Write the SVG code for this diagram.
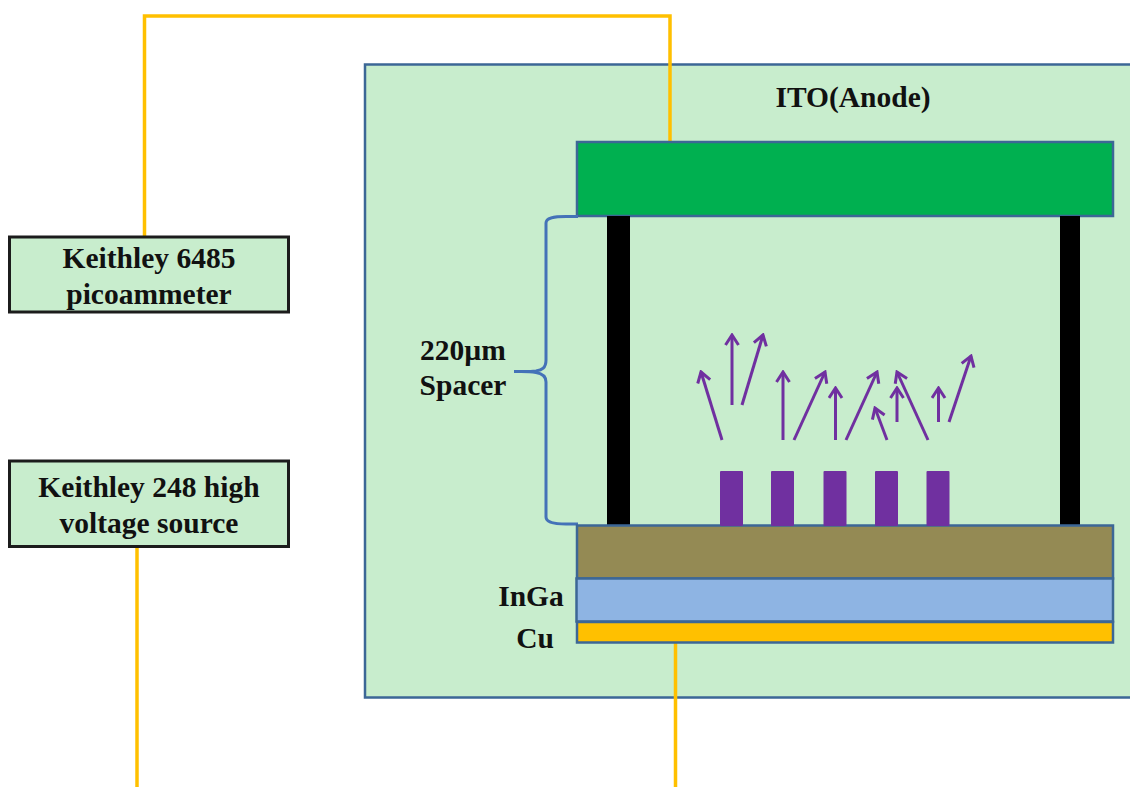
<svg xmlns="http://www.w3.org/2000/svg" width="1130" height="787" viewBox="0 0 1130 787">
<defs>
<marker id="arr" viewBox="0 0 16 16" refX="14" refY="8" markerWidth="16" markerHeight="16" markerUnits="userSpaceOnUse" orient="auto"><path d="M4 1.500 L14 8 L4 14.500" fill="none" stroke="#7030a0" stroke-width="3"/></marker>
</defs>
<style>
text{font-family:"Liberation Serif","Times New Roman",serif;font-weight:bold;font-size:29.500px;fill:#111;text-anchor:middle}
.l{stroke:#3c6796;stroke-width:2.500}
.box{fill:#c8edcd;stroke:#1c1c1c;stroke-width:3}
.w{fill:none;stroke:#ffc000;stroke-width:3.500}
.a{fill:none;stroke:#7030a0;stroke-width:3;marker-end:url(#arr)}
.p{fill:#7030a0}
.s{fill:#000}
</style>
<rect width="1130" height="787" fill="#fff"/>
<g id="ito"><path d="M1131 64.500H365V697.500H1131" fill="#c8edcd" stroke="#3c6796" stroke-width="2.500"/><text x="853" y="107">ITO(Anode)</text></g>
<g id="connectors">
<path class="w" d="M144.500 237V16H670V143"/>
<path class="w" d="M137 547V787"/>
<path class="w" d="M675.500 643V787"/>
</g>
<g id="anode"><rect class="l" x="577" y="142" width="536" height="74" fill="#00b050"/></g>
<g id="spacers"><rect class="s" x="607" y="216" width="23" height="311"/><rect class="s" x="1060" y="216" width="20" height="311"/></g>
<g id="brace"><path d="M578 216.500H566C553 216.500 546 218 546 223V360C546 368 542 370 536 371C528 372 522 371.500 514 371.500C522 371.500 528 371 536 372.500C542 373.500 546 376 546 382V517C546 522 553 524 566 524H578" fill="none" stroke="#4472b8" stroke-width="3"/><text x="463" y="360">220µm</text><text x="463" y="395">Spacer</text></g>
<g id="substrate"><rect class="l" x="577" y="525.500" width="536" height="53" fill="#948a54"/></g>
<g id="inga"><rect class="l" x="576.500" y="578.500" width="536.500" height="43" fill="#8eb4e3"/><text x="531" y="606">InGa</text></g>
<g id="cu"><rect class="l" x="577" y="622" width="536" height="20.500" fill="#ffc000"/><text x="535" y="648">Cu</text></g>
<g id="emitters">
<rect class="p" x="720" y="471" width="23" height="55" rx="1"/>
<rect class="p" x="771" y="471" width="23" height="55" rx="1"/>
<rect class="p" x="823.500" y="471" width="23" height="55" rx="1"/>
<rect class="p" x="875" y="471" width="23" height="55" rx="1"/>
<rect class="p" x="926.500" y="471" width="23" height="55" rx="1"/>
</g>
<g id="emission">
<path class="a" d="M722 440L701 372"/>
<path class="a" d="M732 405V335"/>
<path class="a" d="M742 405L763 335"/>
<path class="a" d="M783 440V372"/>
<path class="a" d="M794 440L825 372"/>
<path class="a" d="M835.500 440V388"/>
<path class="a" d="M846 440L877 372"/>
<path class="a" d="M887 440L875 408"/>
<path class="a" d="M897 422V388"/>
<path class="a" d="M928 440L897 372"/>
<path class="a" d="M938.500 422V388"/>
<path class="a" d="M949 422L971 356"/>
</g>
<g id="picoammeter"><rect class="box" x="9.500" y="237" width="279" height="75"/><text x="149" y="268">Keithley 6485</text><text x="149" y="304">picoammeter</text></g>
<g id="source"><rect class="box" x="9.500" y="461" width="279" height="85.500"/><text x="149" y="497">Keithley 248 high</text><text x="149" y="533">voltage source</text></g>
</svg>
